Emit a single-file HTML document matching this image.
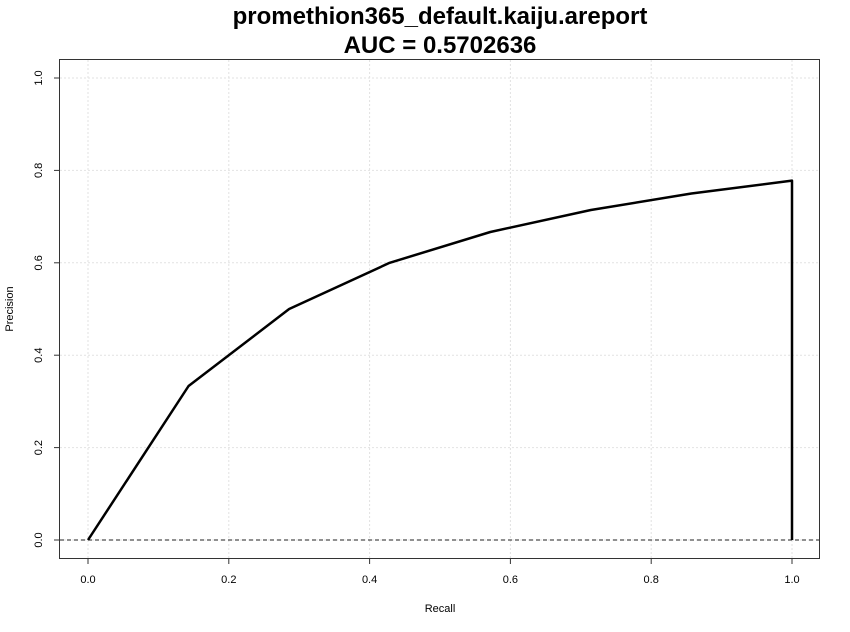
<!DOCTYPE html>
<html><head><meta charset="utf-8"><style>
body{margin:0;background:#fff}
svg{display:block;font-family:"Liberation Sans",Arial,sans-serif}
</style></head><body>
<svg width="850" height="632" viewBox="0 0 850 632">
<g id="grid"></g>
<line x1="60" y1="540" x2="819" y2="540" stroke="#222" stroke-dasharray="4,3" stroke-width="1"/>
<path id="curve" fill="none" stroke="#000" stroke-width="2.5" stroke-linejoin="round"/>
<rect x="59.5" y="59.5" width="760" height="499" fill="none" stroke="#333" stroke-width="1"/>
<g id="axes" font-size="11" fill="#000"></g>
<text x="440" y="24" text-anchor="middle" font-size="24" font-weight="bold">promethion365_default.kaiju.areport</text>
<text x="440" y="53" text-anchor="middle" font-size="24" font-weight="bold">AUC = 0.5702636</text>
<text x="440" y="612" text-anchor="middle" font-size="11">Recall</text>
<text transform="translate(13,309) rotate(-90)" text-anchor="middle" font-size="11">Precision</text>
</svg>
<script>
const recall=[0,0.142857,0.285714,0.428571,0.571429,0.714286,0.857143,1,1];
const precision=[0,0.333333,0.5,0.6,0.666667,0.714286,0.75,0.777778,0];
const xTicks=[0,0.2,0.4,0.6,0.8,1.0];
const yTicks=[0,0.2,0.4,0.6,0.8,1.0];
const xs=v=>88+v*704, ys=v=>540-v*462;
const ns="http://www.w3.org/2000/svg";
const grid=document.getElementById('grid'), axes=document.getElementById('axes');
function mk(t,a,p){const e=document.createElementNS(ns,t);for(const k in a)e.setAttribute(k,a[k]);p.appendChild(e);return e;}
xTicks.forEach(v=>{
 const g=mk('line',{x1:xs(v),x2:xs(v),y1:60,y2:558,stroke:'#e2e2e2','stroke-dasharray':'2,2'},grid);
 
 
 const t=mk('line',{x1:xs(v),x2:xs(v),y1:559,y2:564,stroke:'#333'},axes);
 
 
 const l=mk('text',{x:xs(v),y:583,'text-anchor':'middle'},axes);l.textContent=v.toFixed(1);
 
 
});
yTicks.forEach(v=>{
 const g=mk('line',{x1:60,x2:819,y1:ys(v),y2:ys(v),stroke:'#e2e2e2','stroke-dasharray':'2,2'},grid);
 
 
 const t=mk('line',{x1:54,x2:59,y1:ys(v),y2:ys(v),stroke:'#333'},axes);
 
 
 const l=mk('text',{transform:`translate(42,${ys(v)}) rotate(-90)`,'text-anchor':'middle'},axes);l.textContent=v.toFixed(1);
 
 
});
document.getElementById('curve').setAttribute('d',recall.map((r,i)=>(i?'L':'M')+xs(r)+','+ys(precision[i])).join(''));
</script>
</body></html>
